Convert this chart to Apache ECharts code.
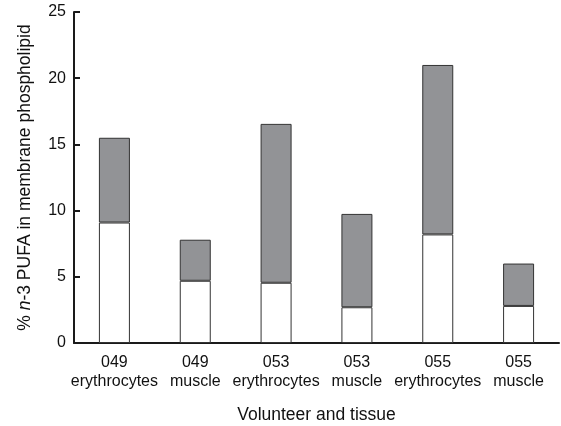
<!DOCTYPE html>
<html>
<head>
<meta charset="utf-8">
<script src="https://cdn.jsdelivr.net/npm/echarts@6/dist/echarts.min.js"></script>
<style>
  html, body { margin: 0; padding: 0; background: #fff; }
  #chart { width: 561px; height: 426px; }
</style>
</head>
<body>
<div id="chart"></div>
<script>
// categories (volunteer + tissue)
var categories = ["049\nerythrocytes", "049\nmuscle", "053\nerythrocytes", "053\nmuscle", "055\nerythrocytes", "055\nmuscle"];
// lower (white) part of each bar
var whiteValues = [9.1, 4.7, 4.55, 2.7, 8.2, 2.8];
// upper (grey) part stacked on top
var greyValues = [6.4, 3.1, 12.0, 7.05, 12.8, 3.2];
var yTicks = [0, 5, 10, 15, 20, 25];

var myChart = echarts.init(document.getElementById("chart"));
var font = "Liberation Sans, Arial, Helvetica, sans-serif";
var option = {
  animation: false,
  backgroundColor: "#fff",
  textStyle: { fontFamily: font },
  grid: { left: 74, top: 12, right: 2, bottom: 83, outerBoundsMode: "none", containLabel: false },
  xAxis: {
    type: "category",
    data: categories,
    name: "Volunteer and tissue",
    nameLocation: "middle",
    nameGap: 63,
    nameTextStyle: { color: "#111", fontSize: 17.5, fontFamily: font },
    axisLine: { lineStyle: { color: "#1a1a1a", width: 2 } },
    axisTick: { show: false },
    axisLabel: { interval: 0, color: "#111", fontSize: 16, lineHeight: 19, margin: 10, fontFamily: font }
  },
  yAxis: {
    type: "value",
    min: yTicks[0],
    max: yTicks[yTicks.length - 1],
    interval: 5,
    name: "% {i|n}-3 PUFA in membrane phospholipid",
    nameLocation: "middle",
    nameGap: 40,
    nameTextStyle: {
      color: "#111", fontSize: 17.5, fontFamily: font,
      rich: { i: { fontStyle: "italic", fontSize: 17.5, color: "#111", fontFamily: font } }
    },
    axisLine: { show: true, lineStyle: { color: "#1a1a1a", width: 2 } },
    axisTick: { show: true, inside: true, length: 6, lineStyle: { color: "#1a1a1a", width: 2 } },
    axisLabel: { color: "#111", fontSize: 16, margin: 8, fontFamily: font },
    splitLine: { show: false }
  },
  series: [
    {
      type: "bar",
      stack: "pufa",
      data: whiteValues,
      barWidth: 31,
      itemStyle: { color: "#ffffff", borderColor: "#333", borderWidth: 1 }
    },
    {
      type: "bar",
      stack: "pufa",
      data: greyValues,
      barWidth: 31,
      itemStyle: { color: "#929396", borderColor: "#333", borderWidth: 1 }
    }
  ]
};
myChart.setOption(option);
</script>
</body>
</html>
